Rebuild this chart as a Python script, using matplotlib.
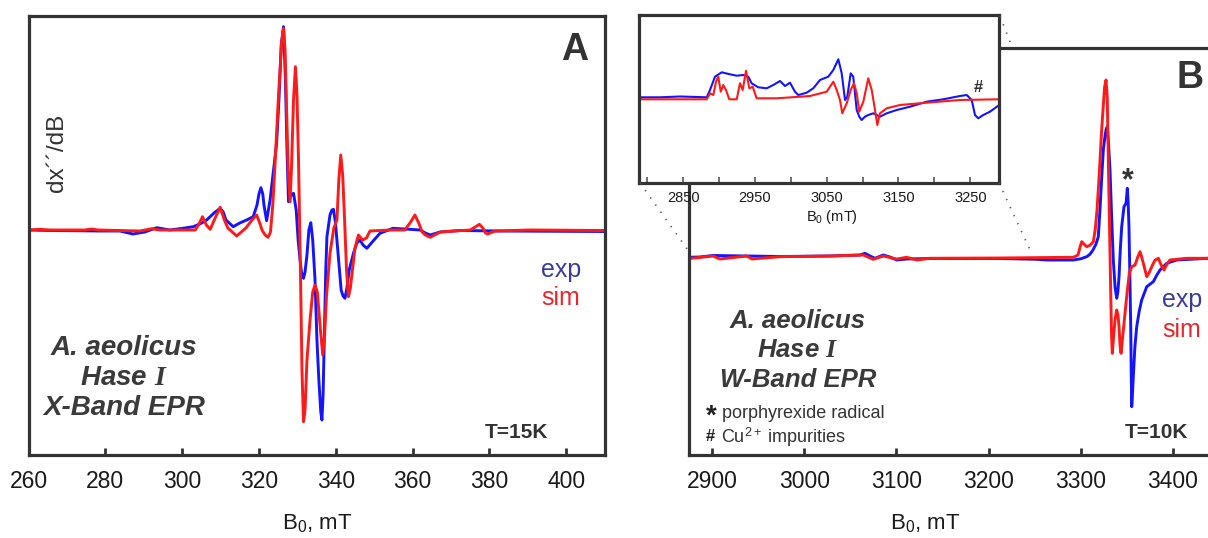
import matplotlib
matplotlib.use("Agg")
import matplotlib.pyplot as plt
from matplotlib.lines import Line2D

plt.rcParams['font.family'] = ['Liberation Sans', 'DejaVu Sans']
plt.rcParams['mathtext.fontset'] = 'custom'
plt.rcParams['mathtext.rm'] = 'Liberation Sans'
plt.rcParams['mathtext.it'] = 'Liberation Serif:style=italic:weight=bold'
plt.rcParams['mathtext.bf'] = 'Liberation Sans:bold'

# ---------------- data: panel A (X-band), field in mT, intensity arb. units
xa_sim = [260, 263.0, 265.6, 274.7, 276.5, 278.1, 289.0, 292.1, 294.2, 303.4,
          304.4, 305.3, 306.3, 307.3, 308.6, 309.9, 311.0, 311.9, 314.2, 316.6,
          318.2, 319.4, 320.3, 320.8, 321.6, 322.4, 323.0, 323.6, 324.1, 324.6,
          325.1, 325.5, 325.9, 326.4, 326.8, 327.2, 327.6, 328.1, 328.5, 329.0,
          329.5, 329.9, 330.3, 330.8, 331.2, 331.6, 332.0, 332.5, 333.3, 334.0,
          334.6, 335.2, 335.9, 336.6, 337.1, 337.6, 338.5, 339.5, 340.3, 340.8,
          341.3, 341.8, 342.3, 342.8, 343.3, 343.8, 344.4, 345.0, 345.9, 347.0,
          348.0, 348.9, 354.1, 358.0, 359.5, 360.6, 361.6, 362.5, 363.3, 364.6,
          367.2, 375.0, 376.3, 377.4, 378.3, 379.0, 379.5, 381.5, 390.6, 410.1]
ya_sim = [0, 0.7, 0, 0, 1, 0, -1, 1.3, 0, 0,
          6, 13.3, 5, 0.7, 12, 22.7, 10, 2, -6, 2,
          10, 15, 6, 0, -5, -7.3, -2, 25, 60, 96.7,
          135, 160, 188, 201.7, 180, 120, 60, 28.3, 65, 130,
          163.3, 135, 70, -40, -140, -191.7, -180, -130, -90, -62,
          -55, -62, -95, -125, -105, -65, -23, 2, 10, 50,
          75, 55, 10, -40, -66.7, -58, -38, -18, -5, -10,
          -8, -1, 0, 0, 8, 15, 7, -2, -5, -7.3,
          -2, 0, 3, 5.7, 2, -3, -4, -1, 0, -0.5]

xa_exp = [260, 265.6, 278.6, 283.8, 287.2, 290.3, 293.4, 296.8, 300.2, 302.9,
          304.6, 306.4, 308.3, 309.9, 310.7, 311.4, 313.3, 315.0, 316.8, 318.5,
          319.5, 320.0, 320.5, 321.0, 321.3, 322.0, 322.9, 323.8, 324.6, 325.2,
          325.8, 326.4, 326.9, 327.3, 327.7, 328.4, 329.0, 329.7, 330.2, 330.7,
          331.1, 331.6, 332.0, 332.5, 333.0, 333.5, 334.0, 334.6, 335.1, 335.6,
          336.1, 336.4, 336.7, 337.0, 337.4, 337.7, 338.5, 339.0, 339.4, 339.9,
          340.3, 341.4, 341.9, 342.4, 342.9, 343.5, 344.6, 345.5, 346.3, 347.1,
          348.1, 349.5, 351.5, 354.9, 358.0, 362.0, 363.3, 364.6, 367.2, 372.4,
          382.8, 410.1]
ya_exp = [0, -0.5, -1, -1, -4, -2, 2.3, 0, 1.7, 3.3,
          6, 10, 17, 21.7, 18, 10, 3.3, 7, 10, 13.3,
          25, 36, 42.3, 36, 25, 9.3, 30, 60, 86.7, 130,
          185, 203.3, 150, 80, 28.3, 35, 36.7, 20, -10, -30,
          -43, -48.3, -42, -25, 0, 7.3, -10, -50, -110, -150,
          -182, -190, -165, -110, -40, -6.7, 15, 20, 20.7, 8,
          -10, -60, -66, -68.3, -58, -40, -23.3, -13, -10, -15,
          -18.3, -12, -3.3, 1.7, 1, 0, -3, -5, -2, -0.5,
          -1, -1.5]

# ---------------- data: panel B (W-band)
xb_sim = [2874.2, 2877.6, 2900.8, 2908.4, 2937.4, 2943.1, 2973.5, 3027.8, 3064.0, 3074.8,
          3085.7, 3100.2, 3111.1, 3121.9, 3136.4, 3212.4, 3292.0, 3297.1, 3299.2, 3301.1,
          3303.8, 3306.5, 3310.0, 3313.7, 3315.8, 3317.7, 3319.4, 3321.0, 3322.6, 3324.2,
          3325.9, 3327.5, 3328.8, 3330.0, 3331.3, 3332.6, 3333.5, 3334.3, 3335.5, 3337.2,
          3339.1, 3340.5, 3341.6, 3342.7, 3343.8, 3345.5, 3348.1, 3350.5, 3352.8, 3355.4,
          3359.0, 3361.8, 3364.4, 3366.0, 3368.0, 3371.7, 3374.5, 3377.1, 3380.5, 3384.3,
          3387.5, 3390.4, 3393.5, 3396.9, 3415.1, 3438.2]
yb_sim = [0, -1, 1.3, -1.7, 1.3, -1.7, 0.6, 1.3, 2.3, -2,
          1.3, -1.7, 0, -2.7, -1, -0.7, 0, 2.3, 10, 15.6,
          13, 10.6, 12, 15.6, 28, 47.3, 72, 97.3, 125, 147.3,
          170, 177.3, 160, 97.3, 30, -36, -78, -96, -82, -62.7,
          -52.7, -58, -69.4, -88, -96, -80, -56, -34, -16, -9.4,
          -7.7, 0, 5.6, 1, -6, -19.4, -15, -9.4, -3, -1,
          -8, -12.7, -7, -2.7, -1, -1]

xb_exp = [2874.2, 2886.6, 2900.8, 2937.4, 2973.5, 3027.8, 3060.4, 3065.8, 3071.2, 3076.7,
          3085.7, 3092.9, 3100.2, 3111.1, 3136.4, 3212.4, 3252.2, 3263.1, 3292.0, 3300.0,
          3306.5, 3310.0, 3313.3, 3316.5, 3319.1, 3320.9, 3322.8, 3324.6, 3326.3, 3327.6,
          3328.9, 3330.3, 3331.8, 3333.6, 3335.4, 3337.3, 3339.1, 3340.3, 3341.6, 3343.0,
          3344.5, 3347.0, 3349.2, 3350.0, 3350.6, 3351.5, 3352.4, 3353.4, 3354.3, 3354.9,
          3355.4, 3356.0, 3357.1, 3358.8, 3360.8, 3363.5, 3366.2, 3371.7, 3378.8, 3382.5,
          3386.1, 3393.4, 3404.2, 3438.2]
yb_exp = [0, 0.3, 1.8, 1.3, 0.8, 1.3, 2.3, 4, 1.3, -1,
          2.3, 0.3, -2.7, -1.7, -1.2, -1.2, -2, -2.7, -2.7, -1.5,
          0.6, 3, 7.3, 13, 20.6, 47.3, 80, 108, 120.6, 128,
          130.6, 112, 87.3, 40, -2.7, -30, -41, -35, -19.4, 8,
          30.6, 50.6, 54, 62, 69, 55, 30.6, -20, -69.4, -120,
          -149.4, -140, -119.4, -90, -69.4, -54, -42.7, -29.4, -24.4, -18,
          -12.7, -6, -2.7, -1]

# ---------------- data: inset (W-band, low-field region)
xi_exp = [2789.0, 2817.8, 2845.7, 2882.9, 2887.5, 2894.4, 2903.8, 2915.3, 2924.7, 2933.8,
          2940.8, 2945.5, 2954.7, 2966.4, 2975.6, 2985.0, 2991.9, 2998.9, 3005.8, 3010.4,
          3022.1, 3031.3, 3040.7, 3052.2, 3059.2, 3066.2, 3070.9, 3075.5, 3078.7, 3083.4,
          3087.0, 3091.8, 3095.4, 3098.7, 3103.3, 3107.9, 3114.9, 3124.2, 3133.6, 3147.5,
          3166.0, 3189.3, 3212.4, 3235.7, 3245.0, 3252.0, 3256.5, 3261.1, 3268.1, 3277.4, 3289.0]
yi_exp = [2, 2, 2.8, 2, 9.3, 22.6, 27, 25, 23.6, 24.3,
          22.6, 16, 12, 11, 14.3, 18.3, 13.3, 16.6, 7.6, 4.3,
          6.6, 11, 19.3, 22.6, 29.3, 40, 26, -0.7, 2.6, 26,
          22.6, -10.7, -17.4, -20.7, -17.4, -15.7, -14, -17.4, -14, -10.7,
          -7.4, -2.4, 0, 3.3, 4.3, -0.7, -15.7, -19, -15.7, -12.4, -6.4]

xi_sim = [2789.0, 2882.9, 2887.5, 2892.1, 2895.8, 2899.0, 2902.4, 2906.0, 2909.7, 2914.3,
          2924.7, 2929.2, 2933.0, 2937.6, 2942.2, 2946.9, 2952.5, 2980.4, 3026.7, 3050.0,
          3059.2, 3063.9, 3068.5, 3071.7, 3077.9, 3083.4, 3088.0, 3091.8, 3095.4, 3101.0,
          3107.9, 3112.7, 3117.3, 3120.5, 3124.2, 3133.6, 3152.1, 3189.3, 3235.7, 3289.0]
yi_sim = [0, 0, 6, 4.3, 17.6, 22.6, 7.6, 14.3, 9.3, 0,
          0, 16, 9.3, 28.6, 11, 12.6, 1, 1, 3.3, 7.6,
          17.6, 9.3, -0.7, -14, -4, 9.3, 16, 6, -12.4, -2.4,
          21, 9.3, -10.7, -25.7, -14, -9, -5.7, -3.4, -0.7, 0]

ticks_a = [260, 280, 300, 320, 340, 360, 380, 400]
ticks_b = [2900, 3000, 3100, 3200, 3300, 3400]
ticks_i_major = [2850, 2950, 3050, 3150, 3250]
ticks_i_minor = [2800, 2900, 3000, 3100, 3200]

# ---------------- styling
W, H = 1208, 538
BLUE = '#1414ff'
RED = '#ff1a1a'
SPINE = '#333333'
TXT = '#3a3a3a'
EXPC = '#3c3c96'
SIMC = '#e8262c'


def fx(x):
    return x / W


def fy(y):
    return 1 - y / H


fig = plt.figure(figsize=(W / 100, H / 100), dpi=100)

# ---- Panel A
axA = fig.add_axes([fx(28.5), fy(455), (605 - 28.5) / W, (455 - 16) / H])
axA.plot(xa_exp, ya_exp, color=BLUE, lw=2.1, solid_joinstyle='round')
axA.plot(xa_sim, ya_sim, color=RED, lw=2.1, solid_joinstyle='round')
axA.set_xlim(260, 410.1)
axA.set_ylim(-225, 214)
axA.set_xticks(ticks_a)
axA.set_yticks([])
for s in axA.spines.values():
    s.set_color(SPINE)
    s.set_linewidth(2.3)
axA.tick_params(axis='x', direction='in', length=5, width=2, color=SPINE,
                labelsize=16.5, pad=11, labelcolor='#1a1a1a')

# ---- Panel B
axB = fig.add_axes([fx(688.5), fy(455), (1208 - 688.5) / W, (455 - 48.3) / H])
axB.plot(xb_exp, yb_exp, color=BLUE, lw=2.1, solid_joinstyle='round')
axB.plot(xb_sim, yb_sim, color=RED, lw=2.1, solid_joinstyle='round')
axB.set_xlim(2874.2, 3438.2)
axB.set_ylim(-197.7, 209)
axB.set_xticks(ticks_b)
axB.set_yticks([])
axB.spines['right'].set_visible(False)
for s in ['left', 'bottom', 'top']:
    axB.spines[s].set_color(SPINE)
    axB.spines[s].set_linewidth(2.3)
axB.tick_params(axis='x', direction='in', length=5, width=2, color=SPINE,
                labelsize=16.5, pad=11, labelcolor='#1a1a1a')

# ---- Inset
axI = fig.add_axes([fx(639.3), fy(182.5), (998.8 - 639.3) / W, (182.5 - 15) / H])
axI.set_facecolor('white')
axI.plot(xi_exp, yi_exp, color=BLUE, lw=1.5, solid_joinstyle='round')
axI.plot(xi_sim, yi_sim, color=RED, lw=1.5, solid_joinstyle='round')
axI.set_xlim(2789, 3289.7)
axI.set_ylim(-83.2, 84.3)
axI.set_xticks(ticks_i_major)
axI.set_xticks(ticks_i_minor, minor=True)
axI.set_yticks([])
for s in axI.spines.values():
    s.set_color(SPINE)
    s.set_linewidth(2.3)
axI.tick_params(axis='x', which='both', direction='in', length=4, width=1.2,
                color='#555555', labelsize=10.5, pad=6, labelcolor='#1a1a1a')
axI.text(3261, 12, '#', fontsize=12, fontweight='bold', color='#333333',
         ha='center', va='center')

# ---- dotted connectors (figure pixel layout)
for (x1, y1, x2, y2) in [(640, 183, 690, 253), (999, 183, 1031, 252), (1000, 16, 1012, 47)]:
    fig.add_artist(Line2D([fx(x1), fx(x2)], [fy(y1), fy(y2)], transform=fig.transFigure,
                          color='#555555', lw=1.2, linestyle=(0, (0.8, 4.5))))

# ---- texts panel A
fig.text(fx(575), fy(50), 'A', fontsize=27, fontweight='bold', color='#333333',
         ha='center', va='center')
fig.text(fx(57), fy(153), 'dx\u00b4\u00b4/dB', fontsize=17.5, color='#333333',
         rotation=90, ha='center', va='center')
fig.text(fx(561), fy(270), 'exp', fontsize=18, color=EXPC, ha='center', va='center')
fig.text(fx(561), fy(298), 'sim', fontsize=18, color=SIMC, ha='center', va='center')
for yb, s in [(355, 'A. aeolicus'), (385, r'Hase $\mathit{I}$'), (415, 'X-Band EPR')]:
    fig.text(fx(124), fy(yb), s, fontsize=20, fontweight='bold', fontstyle='italic',
             color=TXT, ha='center', va='baseline')
fig.text(fx(516), fy(438), 'T=15K', fontsize=15, fontweight='bold', color='#333333',
         ha='center', va='baseline')
fig.text(fx(317), fy(523), r'B$_0$, mT', fontsize=16, color='#1a1a1a',
         ha='center', va='center')

# ---- texts panel B
fig.text(fx(1190), fy(78), 'B', fontsize=27, fontweight='bold', color='#333333',
         ha='center', va='center')
axB.text(3351.5, 76, '*', fontsize=22, fontweight='bold', color='#333333',
         ha='center', va='center')
fig.text(fx(1182), fy(300), 'exp', fontsize=18, color=EXPC, ha='center', va='center')
fig.text(fx(1182), fy(330), 'sim', fontsize=18, color=SIMC, ha='center', va='center')
for yb, s in [(328, 'A. aeolicus'), (357, r'Hase $\mathit{I}$'), (387, 'W-Band EPR')]:
    fig.text(fx(798), fy(yb), s, fontsize=18.5, fontweight='bold', fontstyle='italic',
             color=TXT, ha='center', va='baseline')
fig.text(fx(706), fy(424), '*', fontsize=20, fontweight='bold', color='#222222',
         ha='left', va='baseline')
fig.text(fx(722), fy(418), 'porphyrexide radical', fontsize=13, color='#333333',
         ha='left', va='baseline')
fig.text(fx(706), fy(441), '#', fontsize=12, fontweight='bold', color='#222222',
         ha='left', va='baseline')
fig.text(fx(721), fy(443), r'Cu$^{2+}$ impurities', fontsize=13, color='#333333',
         ha='left', va='baseline')
fig.text(fx(1156), fy(438), 'T=10K', fontsize=15, fontweight='bold', color='#333333',
         ha='center', va='baseline')
fig.text(fx(925), fy(523), r'B$_0$, mT', fontsize=16, color='#1a1a1a',
         ha='center', va='center')
fig.text(fx(832), fy(217), r'B$_0$ (mT)', fontsize=10.5, color='#1a1a1a',
         ha='center', va='center')

fig.savefig('out.png', dpi=100, facecolor='white')
